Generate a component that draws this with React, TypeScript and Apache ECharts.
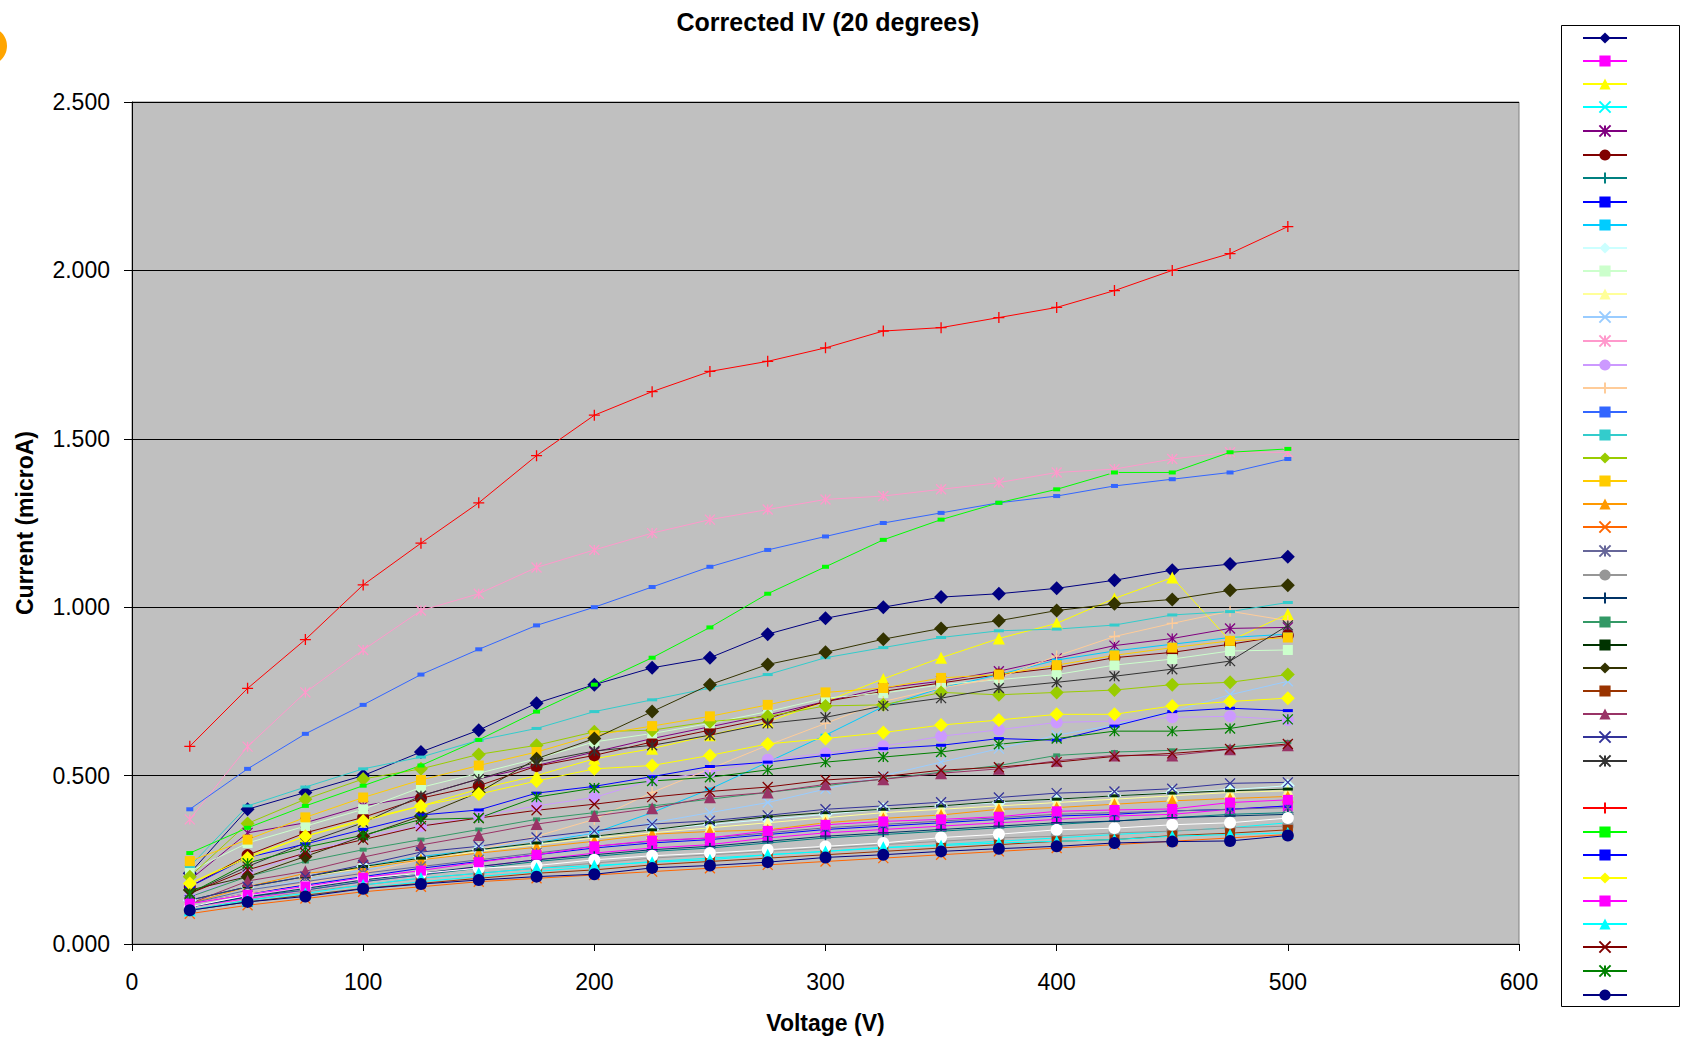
import React, { useEffect, useRef } from "react";
import * as echarts from "echarts";

// Voltage (V) categories
const voltages = [25, 50, 75, 100, 125, 150, 175, 200, 225, 250, 275, 300, 325, 350, 375, 400, 425, 450, 475, 500];

// Current (microA) per series
const s01 = [0.21, 0.40, 0.45, 0.50, 0.57, 0.635, 0.715, 0.77, 0.82, 0.85, 0.92, 0.967, 1.00, 1.03, 1.04, 1.056, 1.08, 1.11, 1.128, 1.15];
const s02 = [0.11, 0.135, 0.16, 0.185, 0.205, 0.23, 0.25, 0.27, 0.285, 0.295, 0.315, 0.33, 0.34, 0.35, 0.36, 0.37, 0.38, 0.385, 0.40, 0.41];
const s03 = [0.18, 0.26, 0.32, 0.37, 0.41, 0.46, 0.50, 0.55, 0.58, 0.62, 0.66, 0.72, 0.787, 0.85, 0.907, 0.952, 1.026, 1.088, 0.90, 0.98];
const s04 = [0.10, 0.125, 0.145, 0.165, 0.185, 0.20, 0.215, 0.23, 0.245, 0.255, 0.265, 0.275, 0.285, 0.295, 0.305, 0.315, 0.325, 0.335, 0.345, 0.36];
const s05 = [0.19, 0.33, 0.36, 0.41, 0.44, 0.49, 0.53, 0.57, 0.61, 0.645, 0.68, 0.72, 0.76, 0.78, 0.81, 0.848, 0.886, 0.907, 0.937, 0.94];
const s06 = [0.17, 0.264, 0.33, 0.376, 0.433, 0.47, 0.528, 0.56, 0.60, 0.635, 0.67, 0.72, 0.75, 0.775, 0.80, 0.82, 0.85, 0.866, 0.89, 0.917];
const s07 = [0.11, 0.14, 0.16, 0.185, 0.205, 0.225, 0.245, 0.26, 0.275, 0.285, 0.30, 0.315, 0.325, 0.335, 0.345, 0.355, 0.365, 0.375, 0.385, 0.39];
const s08 = [0.12, 0.15, 0.175, 0.20, 0.225, 0.245, 0.265, 0.285, 0.30, 0.31, 0.325, 0.34, 0.35, 0.36, 0.37, 0.38, 0.385, 0.395, 0.40, 0.41];
const s09 = [0.13, 0.17, 0.20, 0.23, 0.26, 0.28, 0.30, 0.33, 0.39, 0.46, 0.54, 0.62, 0.705, 0.76, 0.80, 0.843, 0.87, 0.89, 0.91, 0.92];
const s10 = [0.13, 0.17, 0.20, 0.23, 0.255, 0.28, 0.30, 0.32, 0.34, 0.355, 0.37, 0.385, 0.40, 0.41, 0.42, 0.43, 0.44, 0.45, 0.458, 0.47];
const s11 = [0.216, 0.30, 0.35, 0.40, 0.465, 0.507, 0.55, 0.60, 0.625, 0.655, 0.69, 0.73, 0.745, 0.77, 0.785, 0.80, 0.828, 0.846, 0.87, 0.873];
const s12 = [0.13, 0.17, 0.20, 0.225, 0.25, 0.275, 0.295, 0.315, 0.33, 0.345, 0.36, 0.375, 0.39, 0.40, 0.41, 0.42, 0.43, 0.44, 0.45, 0.455];
const s13 = [0.12, 0.16, 0.19, 0.22, 0.25, 0.28, 0.31, 0.33, 0.36, 0.39, 0.42, 0.46, 0.50, 0.54, 0.58, 0.62, 0.65, 0.69, 0.74, 0.78];
const s14 = [0.37, 0.586, 0.747, 0.873, 0.99, 1.04, 1.118, 1.17, 1.22, 1.26, 1.29, 1.32, 1.33, 1.35, 1.37, 1.40, 1.41, 1.44, 1.46, 1.46];
const s15 = [0.14, 0.21, 0.27, 0.32, 0.35, 0.38, 0.41, 0.435, 0.487, 0.51, 0.547, 0.566, 0.587, 0.617, 0.636, 0.658, 0.662, 0.673, 0.676, 0.665];
const s16 = [0.12, 0.15, 0.18, 0.21, 0.25, 0.28, 0.32, 0.37, 0.45, 0.52, 0.59, 0.655, 0.72, 0.76, 0.79, 0.855, 0.913, 0.952, 0.988, 0.96];
const s17 = [0.40, 0.52, 0.624, 0.71, 0.80, 0.875, 0.946, 1.00, 1.06, 1.12, 1.17, 1.21, 1.25, 1.28, 1.31, 1.33, 1.36, 1.38, 1.40, 1.44];
const s18 = [0.23, 0.41, 0.466, 0.52, 0.555, 0.605, 0.64, 0.69, 0.725, 0.76, 0.80, 0.85, 0.88, 0.91, 0.93, 0.935, 0.947, 0.977, 0.987, 1.014];
const s19 = [0.20, 0.358, 0.43, 0.49, 0.52, 0.563, 0.59, 0.63, 0.635, 0.66, 0.676, 0.707, 0.71, 0.747, 0.74, 0.747, 0.754, 0.77, 0.777, 0.80];
const s20 = [0.246, 0.31, 0.376, 0.435, 0.487, 0.53, 0.57, 0.62, 0.647, 0.676, 0.71, 0.747, 0.76, 0.79, 0.80, 0.828, 0.857, 0.88, 0.90, 0.91];
const s21 = [0.12, 0.17, 0.21, 0.225, 0.25, 0.27, 0.287, 0.305, 0.326, 0.334, 0.339, 0.36, 0.373, 0.383, 0.40, 0.405, 0.415, 0.425, 0.432, 0.438];
const s22 = [0.09, 0.115, 0.135, 0.155, 0.17, 0.185, 0.195, 0.205, 0.215, 0.225, 0.235, 0.245, 0.255, 0.265, 0.275, 0.285, 0.295, 0.305, 0.315, 0.325];
const s23 = [0.12, 0.16, 0.185, 0.21, 0.23, 0.25, 0.27, 0.29, 0.305, 0.315, 0.33, 0.345, 0.355, 0.365, 0.375, 0.385, 0.39, 0.395, 0.40, 0.405];
const s24 = [0.10, 0.13, 0.155, 0.175, 0.195, 0.21, 0.225, 0.24, 0.255, 0.265, 0.275, 0.285, 0.295, 0.305, 0.315, 0.32, 0.33, 0.335, 0.345, 0.35];
const s25 = [0.11, 0.14, 0.165, 0.19, 0.21, 0.23, 0.25, 0.265, 0.28, 0.29, 0.305, 0.32, 0.33, 0.34, 0.35, 0.36, 0.365, 0.375, 0.38, 0.385];
const s26 = [0.14, 0.20, 0.245, 0.28, 0.31, 0.34, 0.37, 0.39, 0.41, 0.43, 0.45, 0.47, 0.49, 0.51, 0.53, 0.56, 0.57, 0.575, 0.585, 0.60];
const s27 = [0.13, 0.17, 0.20, 0.23, 0.255, 0.28, 0.30, 0.32, 0.339, 0.36, 0.378, 0.39, 0.40, 0.41, 0.423, 0.43, 0.44, 0.448, 0.455, 0.46];
const s28 = [0.16, 0.20, 0.26, 0.32, 0.38, 0.45, 0.55, 0.61, 0.69, 0.77, 0.83, 0.866, 0.905, 0.937, 0.96, 0.99, 1.01, 1.023, 1.05, 1.065];
const s29 = [0.10, 0.125, 0.145, 0.165, 0.18, 0.195, 0.21, 0.22, 0.235, 0.245, 0.255, 0.265, 0.275, 0.285, 0.295, 0.305, 0.31, 0.322, 0.329, 0.339];
const s30 = [0.12, 0.187, 0.216, 0.258, 0.294, 0.324, 0.356, 0.38, 0.403, 0.436, 0.45, 0.474, 0.489, 0.507, 0.52, 0.544, 0.56, 0.56, 0.578, 0.59];
const s31 = [0.13, 0.17, 0.20, 0.235, 0.273, 0.29, 0.316, 0.336, 0.356, 0.366, 0.382, 0.40, 0.41, 0.421, 0.435, 0.448, 0.453, 0.461, 0.477, 0.48];
const s32 = [0.15, 0.23, 0.30, 0.36, 0.44, 0.49, 0.54, 0.573, 0.59, 0.62, 0.655, 0.673, 0.707, 0.73, 0.76, 0.777, 0.795, 0.816, 0.84, 0.946];
const s33 = [0.11, 0.145, 0.17, 0.195, 0.21, 0.225, 0.233, 0.25, 0.262, 0.27, 0.28, 0.29, 0.30, 0.316, 0.326, 0.339, 0.344, 0.354, 0.36, 0.374];
const s34 = [0.587, 0.759, 0.904, 1.066, 1.19, 1.31, 1.45, 1.57, 1.64, 1.70, 1.73, 1.77, 1.82, 1.83, 1.86, 1.89, 1.94, 2.00, 2.05, 2.13];
const s35 = [0.27, 0.345, 0.41, 0.47, 0.53, 0.606, 0.69, 0.77, 0.85, 0.94, 1.04, 1.12, 1.20, 1.26, 1.31, 1.35, 1.40, 1.40, 1.46, 1.47];
const s36 = [0.17, 0.257, 0.297, 0.34, 0.383, 0.398, 0.448, 0.468, 0.497, 0.527, 0.54, 0.56, 0.58, 0.59, 0.61, 0.605, 0.647, 0.69, 0.70, 0.693];
const s37 = [0.18, 0.255, 0.32, 0.365, 0.41, 0.445, 0.484, 0.52, 0.53, 0.56, 0.594, 0.61, 0.628, 0.65, 0.665, 0.682, 0.682, 0.707, 0.72, 0.73];
const s38 = [0.12, 0.146, 0.171, 0.197, 0.218, 0.243, 0.265, 0.29, 0.307, 0.315, 0.336, 0.354, 0.364, 0.37, 0.378, 0.394, 0.398, 0.401, 0.42, 0.428];
const s39 = [0.10, 0.13, 0.15, 0.175, 0.196, 0.21, 0.225, 0.233, 0.243, 0.25, 0.265, 0.275, 0.287, 0.292, 0.30, 0.305, 0.31, 0.32, 0.325, 0.33];
const s40 = [0.15, 0.22, 0.27, 0.31, 0.35, 0.374, 0.397, 0.415, 0.436, 0.453, 0.466, 0.487, 0.497, 0.516, 0.525, 0.54, 0.557, 0.566, 0.579, 0.594];
const s41 = [0.15, 0.24, 0.287, 0.323, 0.37, 0.374, 0.436, 0.463, 0.484, 0.495, 0.517, 0.54, 0.555, 0.57, 0.593, 0.61, 0.632, 0.632, 0.64, 0.667];
const s42 = [0.10, 0.125, 0.141, 0.164, 0.178, 0.19, 0.20, 0.207, 0.226, 0.233, 0.243, 0.257, 0.265, 0.275, 0.283, 0.29, 0.30, 0.304, 0.306, 0.322];

const allSeries = [
  s01, s02, s03, s04, s05, s06, s07, s08, s09, s10, s11, s12, s13, s14,
  s15, s16, s17, s18, s19, s20, s21, s22, s23, s24, s25, s26, s27, s28,
  s29, s30, s31, s32, s33, s34, s35, s36, s37, s38, s39, s40, s41, s42,
];

// Excel default series colours
const seriesColors = [
  "#000080", "#FF00FF", "#FFFF00", "#00FFFF", "#800080", "#800000", "#008080", "#0000FF", "#00CCFF",
  "#CCFFFF", "#CCFFCC", "#FFFF99", "#99CCFF", "#FF99CC", "#CC99FF", "#FFCC99", "#3366FF", "#33CCCC",
  "#99CC00", "#FFCC00", "#FF9900", "#FF6600", "#666699", "#969696", "#003366", "#339966", "#003300",
  "#333300", "#993300", "#993366", "#333399", "#333333", "#FFFFFF", "#FF0000", "#00FF00", "#0000FF",
  "#FFFF00", "#FF00FF", "#00FFFF", "#800000", "#008000", "#000080",
];

const yTicks = [0, 0.5, 1.0, 1.5, 2.0, 2.5];
const xTicks = [0, 100, 200, 300, 400, 500, 600];

const markerKinds = ["diamond", "square", "triangle", "x", "star", "circle", "plus", "shortDash", "longDash"];

const FONT = "'Liberation Sans', Arial, Helvetica, sans-serif";

function markerStyle(kind: string) {
  switch (kind) {
    case "diamond": return { symbol: "diamond", size: [14, 14], stroked: false };
    case "square": return { symbol: "rect", size: [10, 10], stroked: false };
    case "triangle": return { symbol: "triangle", size: [12, 12], stroked: false };
    case "x": return { symbol: "path://M0,0L10,10M10,0L0,10", size: [10, 10], stroked: true };
    case "star": return { symbol: "path://M0,0L10,10M10,0L0,10M5,0L5,10", size: [10, 10], stroked: true };
    case "circle": return { symbol: "circle", size: [12, 12], stroked: false };
    case "plus": return { symbol: "path://M5,0L5,10M0,5L10,5", size: [11, 11], stroked: true };
    case "shortDash": return { symbol: "rect", size: [7, 4], stroked: false };
    default: return { symbol: "rect", size: [10, 3], stroked: false };
  }
}

export default function App() {
  const ref = useRef<HTMLDivElement>(null);

  useEffect(() => {
    if (!ref.current) return;
    const chart = echarts.init(ref.current, undefined, { renderer: "svg" });

    const series = allSeries.map((vals, i) => {
      const color = seriesColors[i];
      const m = markerStyle(markerKinds[i % markerKinds.length]);
      return {
        type: "line",
        name: `Series ${i + 1}`,
        data: voltages.map((v, j) => [v, vals[j]]),
        symbol: m.symbol,
        symbolSize: m.size,
        showAllSymbol: true,
        lineStyle: { color, width: 1 },
        itemStyle: { color, borderColor: color, borderWidth: m.stroked ? 1.3 : 0 },
        emphasis: { disabled: true },
        silent: true,
      };
    });

    chart.setOption({
      animation: false,
      backgroundColor: "#FFFFFF",
      textStyle: { fontFamily: FONT },
      grid: {
        left: 132,
        top: 102,
        right: 166,
        bottom: 97,
        show: true,
        backgroundColor: "#C0C0C0",
        borderColor: "#808080",
        borderWidth: 1,
      },
      xAxis: {
        type: "value",
        min: xTicks[0],
        max: xTicks[xTicks.length - 1],
        interval: 100,
        name: "Voltage (V)",
        nameLocation: "middle",
        nameGap: 67,
        nameTextStyle: { fontFamily: FONT, fontSize: 23, fontWeight: "bold", color: "#000" },
        axisLine: { show: true, lineStyle: { color: "#000", width: 1 } },
        axisTick: { show: true, inside: false, length: 7, lineStyle: { color: "#000" } },
        axisLabel: { fontFamily: FONT, fontSize: 23, color: "#000", margin: 26 },
        splitLine: { show: false },
      },
      yAxis: {
        type: "value",
        min: yTicks[0],
        max: yTicks[yTicks.length - 1],
        interval: 0.5,
        name: "Current (microA)",
        nameLocation: "middle",
        nameGap: 96,
        nameTextStyle: { fontFamily: FONT, fontSize: 23, fontWeight: "bold", color: "#000" },
        axisLine: { show: true, lineStyle: { color: "#000", width: 1 } },
        axisTick: { show: true, inside: false, length: 8, lineStyle: { color: "#000" } },
        axisLabel: {
          fontFamily: FONT,
          fontSize: 23,
          color: "#000",
          margin: 22,
          formatter: (v: number) => v.toFixed(3),
        },
        splitLine: { show: true, lineStyle: { color: "#000", width: 1 } },
      },
      legend: {
        show: true,
        orient: "vertical",
        left: 1582,
        top: 31,
        padding: 0,
        itemWidth: 44,
        itemHeight: 14,
        itemGap: 10.4,
        selectedMode: false,
        formatter: () => "",
        textStyle: { fontSize: 10 },
        data: series.map((s) => s.name),
      },
      graphic: [
        {
          type: "circle",
          shape: { cx: -12, cy: 46, r: 19 },
          style: { fill: "#FFA500" },
          silent: true,
        },
        {
          type: "rect",
          shape: { x: 1561.5, y: 25.5, width: 118, height: 981 },
          style: { fill: "none", stroke: "#000", lineWidth: 1 },
          silent: true,
        },
        {
          type: "text",
          x: 828,
          y: 22,
          style: {
            text: "Corrected IV (20 degrees)",
            fontFamily: FONT,
            fontSize: 25,
            fontWeight: "bold",
            fill: "#000",
            align: "center",
            verticalAlign: "middle",
          },
          silent: true,
        },
      ],
      series,
    });

    return () => chart.dispose();
  }, []);

  return (
    <div
      ref={ref}
      style={{ position: "absolute", left: 0, top: 0, width: 1685, height: 1041 }}
    />
  );
}
